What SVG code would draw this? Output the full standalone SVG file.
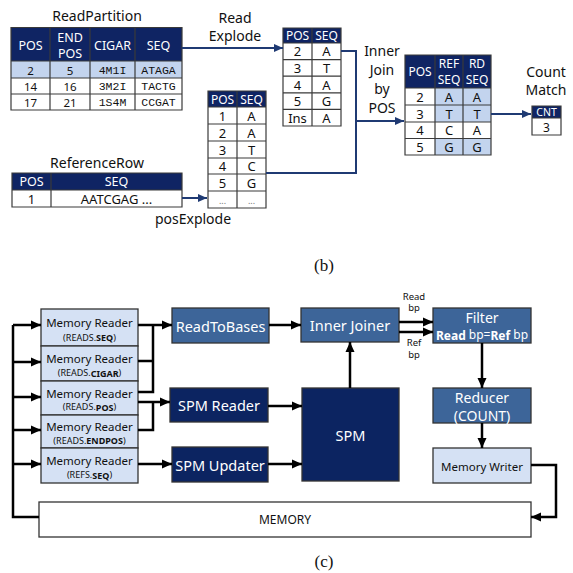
<svg xmlns="http://www.w3.org/2000/svg" width="573" height="573" viewBox="0 0 573 573">
<defs>
<style>
text{font-family:"Noto Sans","Open Sans","DejaVu Sans",sans-serif;text-anchor:middle;dominant-baseline:central;}
.hd{fill:#0f2463;}
.lb{fill:#c3d4ee;}
.wc{fill:#ffffff;}
.grid{stroke:#3a3a3a;stroke-width:1.2;fill:none;}
.ht{fill:#ffffff;font-size:12.5px;}
.hs{fill:#ffffff;font-size:12px;}
.ct{fill:#111;font-size:13px;}
.cr{fill:#111;font-size:11.5px;}
.mono{font-family:"Liberation Mono","DejaVu Sans Mono",monospace;font-size:11.5px;fill:#111;}
.ttl{fill:#111;font-size:14px;}
.nav{stroke:#1f3a73;stroke-width:2;fill:none;}
.blk{stroke:#000;stroke-width:2.5;fill:none;}
.mr{fill:#d5e1f4;stroke:#333;stroke-width:1.3;}
.mb{fill:#3d6599;stroke:#333;stroke-width:1.3;}
.db{fill:#0c2461;stroke:#333;stroke-width:1.3;}
.wt{fill:#fff;font-size:14.5px;}
.mt{fill:#111;font-size:11.5px;}
.st{fill:#111;font-size:9px;}
.sm{fill:#111;font-size:9.5px;}
.cap{font-family:"Liberation Serif","Times New Roman",serif;font-size:17px;fill:#111;}
</style>
<marker id="an" markerWidth="10" markerHeight="10" refX="9" refY="5" orient="auto" markerUnits="userSpaceOnUse"><path d="M0,1 L9,5 L0,9 z" fill="#1f3a73"/></marker>
<marker id="ab" markerWidth="11" markerHeight="11" refX="10" refY="5.5" orient="auto" markerUnits="userSpaceOnUse"><path d="M0,1 L10,5.5 L0,10 z" fill="#000"/></marker>
</defs>
<rect width="573" height="573" fill="#fff"/>

<!-- (b) -->
<g id="readPartition">
<text class="ttl" x="97" y="15">ReadPartition</text>
<rect class="hd" x="11" y="27.5" width="171" height="33.5"/>
<rect class="lb" x="11" y="61" width="171" height="17"/>
<rect class="wc" x="11" y="78" width="171" height="32"/>
<path class="grid" d="M11,27.5H182V110H11Z M11,61H182 M11,78H182 M11,94H182 M50,27.5V110 M90,27.5V110 M135,27.5V110"/>
<text class="ht" x="30.5" y="45">POS</text>
<text class="ht" x="70" y="37">END</text>
<text class="ht" x="70" y="53">POS</text>
<text class="ht" x="112.5" y="45">CIGAR</text>
<text class="ht" x="158.5" y="45">SEQ</text>
<text class="cr" x="30.5" y="70">2</text><text class="cr" x="70" y="70">5</text><text class="mono" x="112.5" y="70">4M1I</text><text class="mono" x="158.5" y="70">ATAGA</text>
<text class="cr" x="30.5" y="86">14</text><text class="cr" x="70" y="86">16</text><text class="mono" x="112.5" y="86">3M2I</text><text class="mono" x="158.5" y="86">TACTG</text>
<text class="cr" x="30.5" y="102">17</text><text class="cr" x="70" y="102">21</text><text class="mono" x="112.5" y="102">1S4M</text><text class="mono" x="158.5" y="102">CCGAT</text>
</g>

<g id="readExplodeTable">
<rect class="hd" x="283" y="28" width="58" height="15"/>
<rect class="wc" x="283" y="43" width="58" height="83"/>
<path class="grid" d="M283,28H341V126H283Z M283,43H341 M283,59.6H341 M283,76.2H341 M283,92.8H341 M283,109.4H341 M312,28V126"/>
<text class="hs" x="297.5" y="35.5">POS</text><text class="hs" x="326.5" y="35.5">SEQ</text>
<text class="ct" x="297.5" y="51.3">2</text><text class="ct" x="326.5" y="51.3">A</text>
<text class="ct" x="297.5" y="67.9">3</text><text class="ct" x="326.5" y="67.9">T</text>
<text class="ct" x="297.5" y="84.5">4</text><text class="ct" x="326.5" y="84.5">A</text>
<text class="ct" x="297.5" y="101.1">5</text><text class="ct" x="326.5" y="101.1">G</text>
<text class="ct" x="297.5" y="117.7">Ins</text><text class="ct" x="326.5" y="117.7">A</text>
</g>

<g id="refPosTable">
<rect class="hd" x="208" y="91" width="58" height="16"/>
<rect class="wc" x="208" y="107" width="58" height="101"/>
<path class="grid" d="M208,91H266V208H208Z M208,107H266 M208,124H266 M208,141H266 M208,158H266 M208,174H266 M208,191H266 M237,91V208"/>
<text class="hs" x="222.5" y="99">POS</text><text class="hs" x="251.5" y="99">SEQ</text>
<text class="ct" x="222.5" y="115.5">1</text><text class="ct" x="251.5" y="115.5">A</text>
<text class="ct" x="222.5" y="132.5">2</text><text class="ct" x="251.5" y="132.5">A</text>
<text class="ct" x="222.5" y="149.5">3</text><text class="ct" x="251.5" y="149.5">T</text>
<text class="ct" x="222.5" y="166">4</text><text class="ct" x="251.5" y="166">C</text>
<text class="ct" x="222.5" y="182.5">5</text><text class="ct" x="251.5" y="182.5">G</text>
<text x="222.5" y="200" style="font-size:9px;fill:#777">...</text><text x="251.5" y="200" style="font-size:9px;fill:#777">...</text>
</g>

<g id="referenceRow">
<text class="ttl" x="97" y="162">ReferenceRow</text>
<rect class="hd" x="12" y="173" width="170" height="17"/>
<rect class="wc" x="12" y="190" width="170" height="17"/>
<path class="grid" d="M12,173H182V207H12Z M12,190H182 M51,173V207"/>
<text class="ht" x="31.5" y="181.5">POS</text><text class="ht" x="116.5" y="181.5">SEQ</text>
<text class="ct" x="31.5" y="198.5">1</text><text class="ct" x="116.5" y="198.5">AATCGAG ...</text>
</g>

<g id="joinTable">
<rect class="hd" x="405" y="55" width="86" height="33"/>
<rect class="wc" x="405" y="88" width="86" height="67"/>
<rect class="lb" x="435" y="88" width="56" height="34"/>
<rect class="lb" x="435" y="138.5" width="56" height="16.5"/>
<path class="grid" d="M405,55H491V155H405Z M405,88H491 M405,105H491 M405,122H491 M405,138.5H491 M435,55V155 M463,55V155"/>
<text class="hs" x="420" y="71.5">POS</text>
<text class="hs" x="449" y="63.5">REF</text><text class="hs" x="449" y="79.5">SEQ</text>
<text class="hs" x="477" y="63.5">RD</text><text class="hs" x="477" y="79.5">SEQ</text>
<text class="ct" x="420" y="96.5">2</text><text class="ct" x="449" y="96.5">A</text><text class="ct" x="477" y="96.5">A</text>
<text class="ct" x="420" y="113.5">3</text><text class="ct" x="449" y="113.5">T</text><text class="ct" x="477" y="113.5">T</text>
<text class="ct" x="420" y="130">4</text><text class="ct" x="449" y="130">C</text><text class="ct" x="477" y="130">A</text>
<text class="ct" x="420" y="146.75">5</text><text class="ct" x="449" y="146.75">G</text><text class="ct" x="477" y="146.75">G</text>
</g>

<g id="cntTable">
<rect class="hd" x="532" y="106" width="29" height="12"/>
<rect class="wc" x="532" y="118" width="29" height="17"/>
<path class="grid" d="M532,106H561V135H532Z M532,118H561"/>
<text x="546.5" y="111.5" style="fill:#fff;font-size:10.5px">CNT</text>
<text x="546.5" y="127.3" style="fill:#111;font-size:12px">3</text>
</g>

<g id="labels-b">
<text class="ttl" x="235" y="17">Read</text>
<text class="ttl" x="235" y="35">Explode</text>
<text class="ttl" x="382" y="50">Inner</text>
<text class="ttl" x="382" y="69">Join</text>
<text class="ttl" x="382" y="88">by</text>
<text class="ttl" x="382" y="107">POS</text>
<text class="ttl" x="546" y="71">Count</text>
<text class="ttl" x="546" y="89">Match</text>
<text class="ttl" x="193" y="218">posExplode</text>
<text class="cap" x="324" y="265">(b)</text>
</g>

<g id="connectors-b">
<path class="nav" d="M182,48H283" marker-end="url(#an)"/>
<path class="nav" d="M341,51H356V173H266"/>
<path class="nav" d="M356,121H404" marker-end="url(#an)"/>
<path class="nav" d="M182,198H207" marker-end="url(#an)"/>
<path class="nav" d="M491,114H531" marker-end="url(#an)"/>
</g>

<!-- (c) -->
<g id="mr-seq"><rect class="mr" x="41" y="309" width="97" height="37"/><text class="mt" x="89.5" y="322">Memory Reader</text><text class="st" x="89.5" y="337">(READS.<tspan font-weight="bold">SEQ</tspan>)</text></g>
<g id="mr-cigar"><rect class="mr" x="41" y="346" width="97" height="35"/><text class="mt" x="89.5" y="358.5">Memory Reader</text><text class="st" x="89.5" y="372.5">(READS.<tspan font-weight="bold">CIGAR</tspan>)</text></g>
<g id="mr-pos"><rect class="mr" x="41" y="381" width="97" height="34"/><text class="mt" x="89.5" y="393">Memory Reader</text><text class="st" x="89.5" y="406.5">(READS.<tspan font-weight="bold">POS</tspan>)</text></g>
<g id="mr-endpos"><rect class="mr" x="41" y="415" width="97" height="33"/><text class="mt" x="89.5" y="426.5">Memory Reader</text><text class="st" x="89.5" y="440">(READS.<tspan font-weight="bold">ENDPOS</tspan>)</text></g>
<g id="mr-refseq"><rect class="mr" x="41" y="448" width="97" height="35"/><text class="mt" x="89.5" y="460.5">Memory Reader</text><text class="st" x="89.5" y="474.5">(REFS.<tspan font-weight="bold">SEQ</tspan>)</text></g>

<g id="readToBases"><rect class="mb" x="172" y="308" width="97" height="35"/><text class="wt" x="220.5" y="325.5">ReadToBases</text></g>
<g id="spmReader"><rect class="db" x="170" y="388" width="98" height="34"/><text class="wt" x="219" y="405">SPM Reader</text></g>
<g id="spmUpdater"><rect class="db" x="172" y="447" width="96" height="35"/><text class="wt" x="220" y="464.5">SPM Updater</text></g>
<g id="innerJoiner"><rect class="mb" x="301" y="308" width="98" height="34"/><text class="wt" x="350" y="325">Inner Joiner</text></g>
<g id="spm"><rect class="db" x="302" y="388" width="97" height="93"/><text class="wt" x="350.5" y="435">SPM</text></g>
<g id="filter"><rect class="mb" x="433" y="308" width="98" height="35"/><text class="wt" x="482" y="317.5" style="font-size:14px">Filter</text><text class="wt" x="482" y="334.5" style="font-size:12px"><tspan font-weight="bold">Read</tspan> bp=<tspan font-weight="bold">Ref</tspan> bp</text></g>
<g id="reducer"><rect class="mb" x="433" y="388" width="98" height="35"/><text class="wt" x="482" y="397.5" style="font-size:14px">Reducer</text><text class="wt" x="482" y="415" style="font-size:14px">(COUNT)</text></g>
<g id="memoryWriter"><rect class="mr" x="433" y="448" width="98" height="35"/><text class="mt" x="482" y="466">Memory Writer</text></g>
<g id="memory"><rect fill="#fff" stroke="#333" stroke-width="1.3" x="39" y="502" width="492" height="35"/><text class="mt" x="285" y="519.5" style="font-size:12px">MEMORY</text></g>

<g id="connectors-c">
<path class="blk" d="M39,517H13V325"/>
<path class="blk" d="M13,325H41" marker-end="url(#ab)"/>
<path class="blk" d="M13,362H41" marker-end="url(#ab)"/>
<path class="blk" d="M13,397H41" marker-end="url(#ab)"/>
<path class="blk" d="M13,430H41" marker-end="url(#ab)"/>
<path class="blk" d="M13,464H41" marker-end="url(#ab)"/>
<path class="blk" d="M138,325H172" marker-end="url(#ab)"/>
<path class="blk" d="M138,361H153 M138,392H153V325"/>
<path class="blk" d="M138,402H170" marker-end="url(#ab)"/>
<path class="blk" d="M138,430H153V402"/>
<path class="blk" d="M138,464H172" marker-end="url(#ab)"/>
<path class="blk" d="M269,325H301" marker-end="url(#ab)"/>
<path class="blk" d="M268,406H302" marker-end="url(#ab)"/>
<path class="blk" d="M268,464H302" marker-end="url(#ab)"/>
<path class="blk" d="M350,388V342" marker-end="url(#ab)"/>
<path class="blk" d="M399,322H433" marker-end="url(#ab)"/>
<path class="blk" d="M399,332H433" marker-end="url(#ab)"/>
<path class="blk" d="M482,343V388" marker-end="url(#ab)"/>
<path class="blk" d="M482,423V448" marker-end="url(#ab)"/>
<path class="blk" d="M531,465H556V517H531" marker-end="url(#ab)"/>
</g>

<g id="labels-c">
<text class="sm" x="414" y="296">Read</text>
<text class="sm" x="414" y="307.5">bp</text>
<text class="sm" x="414" y="342.5">Ref</text>
<text class="sm" x="414" y="354">bp</text>
<text class="cap" x="324" y="561">(c)</text>
</g>
</svg>
